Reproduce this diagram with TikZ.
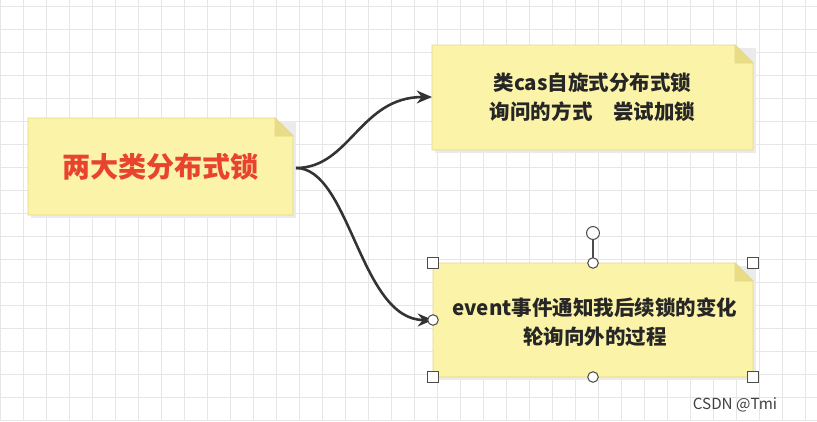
\documentclass[tikz,border=0pt]{standalone}
\usepackage{fontspec}
\setmainfont{Noto Sans CJK SC}
\usetikzlibrary{arrows.meta}
\definecolor{notefill}{HTML}{FBF3A8}
\definecolor{notedraw}{HTML}{E3D98A}
\definecolor{foldfill}{HTML}{E8DD86}
\definecolor{gridcol}{HTML}{E6E6E6}
\definecolor{txtred}{HTML}{E8432E}
\definecolor{linkcol}{HTML}{333333}
\tikzset{
  note/.style={fill=notefill, draw=notedraw, line width=0.8pt},
  fold/.style={fill=foldfill, draw=notedraw, line width=0.8pt},
  link/.style={draw=linkcol, line width=2.2pt, -{Stealth[length=13pt,width=11pt]}},
  handle/.style={draw=black!70, fill=white, line width=0.9pt, minimum size=9pt, inner sep=0pt},
  notetext/.style={font=\bfseries\fontsize{17.5}{25}\selectfont, align=center, text=black!85}
}
\newcommand{\stickynote}[5]{% name, x1, y1, x2, y2
  \fill[black!8] (#2+3,#3+3) rectangle (#4+3,#5+3);
  \path[note] (#2,#3) -- (#4-18,#3) -- (#4,#3+18) -- (#4,#5) -- (#2,#5) -- cycle;
  \path[fold] (#4-18,#3) -- (#4-18,#3+18) -- (#4,#3+18) -- cycle;
  \coordinate (#1) at ({(#2+#4)/2},{(#3+#5)/2});
}
\begin{document}
\begin{tikzpicture}[x=0.03cm,y=-0.03cm]
  \useasboundingbox (0,0) rectangle (817,421);
  \fill[white] (0,0) rectangle (817,421);
  \foreach \gx in {0,23,...,817} \draw[gridcol, line width=0.6pt] (\gx,0) -- (\gx,421);
  \foreach \gy in {6,29,...,421} \draw[gridcol, line width=0.6pt] (0,\gy) -- (817,\gy);
  % notes
  \stickynote{left}{28}{118}{293}{215}
  \stickynote{top}{432}{45}{753}{150}
  \stickynote{bottom}{433}{263}{753}{377}
  \node[text=txtred, font=\bfseries\fontsize{24}{28}\selectfont] (lefttext) at (left) {两大类分布式锁};
  \node[notetext] (toptext) at (top) {类cas自旋式分布式锁\\询问的方式\quad 尝试加锁};
  \node[notetext] (bottomtext) at (595,322) {event事件通知我后续锁的变化\\轮询向外的过程};
  % links
  \coordinate (start) at (296,168);
  \coordinate (topin) at (432,97);
  \coordinate (botin) at (433,320);
  \draw[link] (start) .. controls (350,168) and (360,97) .. (topin);
  \draw[link] (start) .. controls (350,168) and (360,320) .. (botin);
  % selection handles
  \draw[black!70, line width=0.9pt] (593,233) -- (593,263);
  \node[handle, circle, minimum size=11pt] (rot) at (593,233) {};
  \foreach \hx/\hy in {433/263,753/263,433/377,753/377}
    \node[handle] at (\hx,\hy) {};
  \foreach \hx/\hy in {593/263,593/377,433/320}
    \node[handle, circle] at (\hx,\hy) {};
  \node[font=\fontsize{13}{15}\selectfont, text=black!75] (mark) at (735,405) {CSDN @Tmi};
\end{tikzpicture}
\end{document}
